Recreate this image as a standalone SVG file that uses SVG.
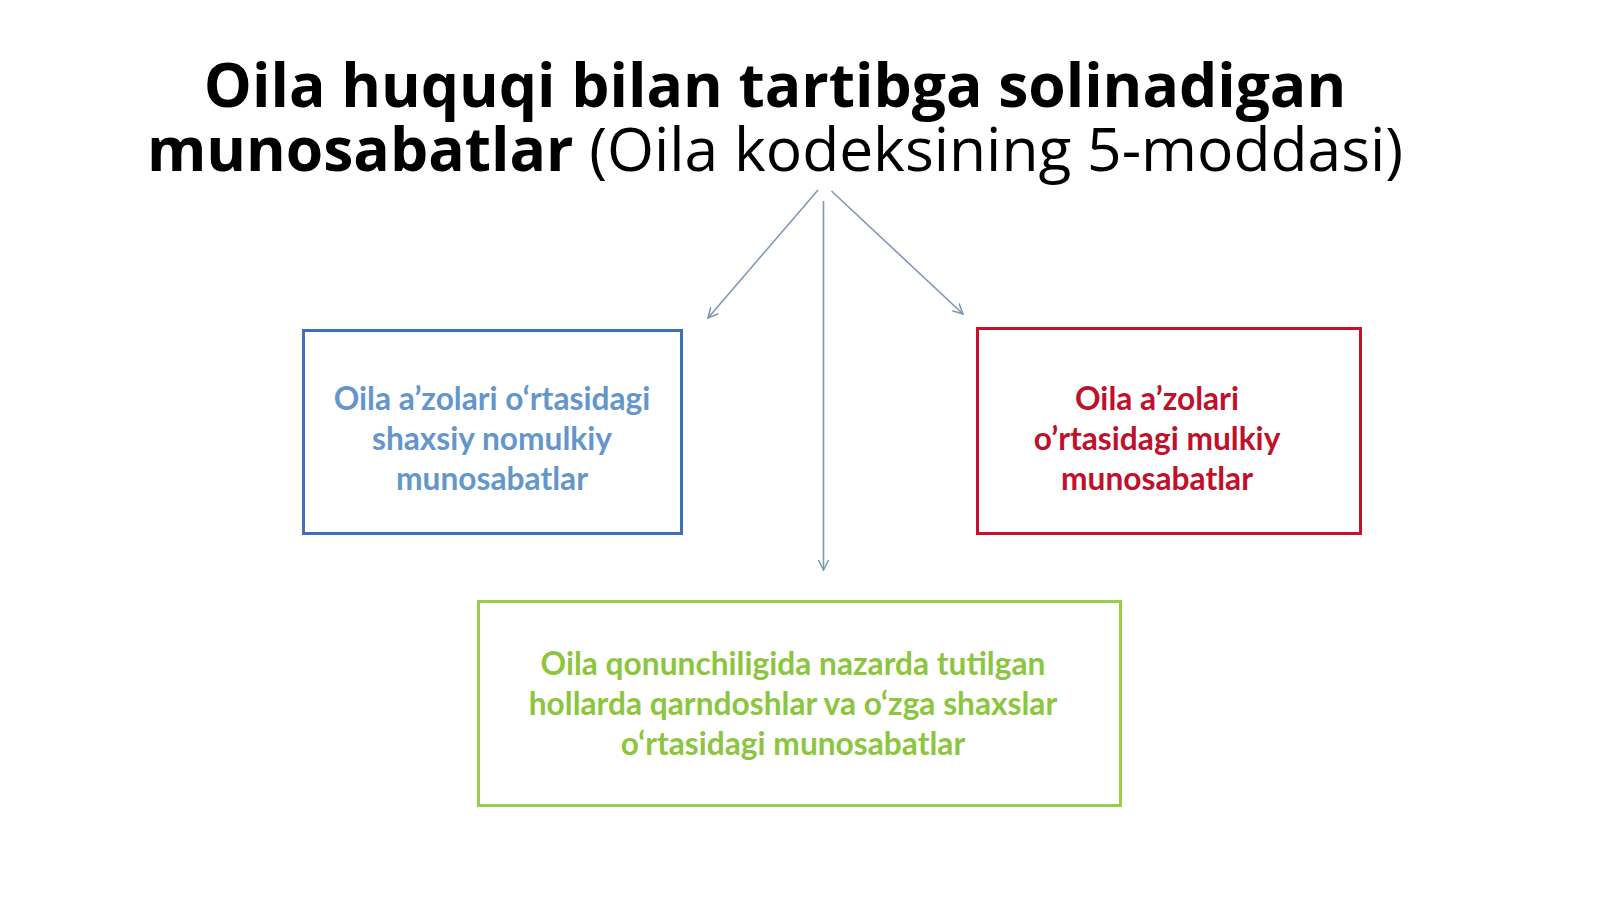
<svg xmlns="http://www.w3.org/2000/svg" width="1600" height="899" viewBox="0 0 1600 899">
<defs>
<style>
.title{font-family:"Open Sans","Noto Sans",sans-serif;font-size:60.5px;fill:#000}
.b{font-weight:700}
.r{font-weight:400}
.box{fill:#fff;stroke-width:3}
.lbl{font-family:Lato,"Liberation Sans",sans-serif;font-weight:700;font-size:31.7px;text-anchor:middle}
.conn{stroke:#7f98b4;stroke-width:1.6;fill:none;marker-end:url(#arr)}
</style>
<marker id="arr" viewBox="0 0 12 12" refX="11" refY="6" markerWidth="12" markerHeight="12" markerUnits="userSpaceOnUse" orient="auto">
<path d="M1,1 L11,6 L1,11" fill="none" stroke="#7f98b4" stroke-width="1.6"/>
</marker>
</defs>
<rect width="1600" height="899" fill="#fff"/>
<g id="title">
<text class="title" text-anchor="middle"><tspan class="b" x="775" y="107">Oila huquqi bilan tartibga solinadigan</tspan><tspan x="775" y="171"><tspan class="b">munosabatlar</tspan><tspan class="r"> (Oila kodeksining 5-moddasi)</tspan></tspan></text>
</g>
<g id="connectors">
<line class="conn" x1="818" y1="190" x2="708" y2="318"/>
<line class="conn" x1="823.5" y1="201" x2="823.5" y2="570"/>
<line class="conn" x1="831.5" y1="191" x2="963" y2="314"/>
</g>
<g id="node-personal">
<rect class="box" x="303.5" y="330.5" width="378" height="203" stroke="#3d72b8"/>
<text class="lbl" fill="#6496cc"><tspan x="492" y="410">Oila a’zolari o‘rtasidagi</tspan><tspan x="492" y="450">shaxsiy nomulkiy</tspan><tspan x="492" y="490">munosabatlar</tspan></text>
</g>
<g id="node-property">
<rect class="box" x="977.5" y="328.5" width="383" height="205" stroke="#c8102e"/>
<text class="lbl" fill="#c0102a"><tspan x="1157" y="410">Oila a’zolari</tspan><tspan x="1157" y="450">o’rtasidagi mulkiy</tspan><tspan x="1157" y="490">munosabatlar</tspan></text>
</g>
<g id="node-relatives">
<rect class="box" x="478.5" y="601.5" width="642" height="204" stroke="#9acd4e"/>
<text class="lbl" fill="#8cc63f"><tspan x="793" y="675">Oila qonunchiligida nazarda tutilgan</tspan><tspan x="793" y="715">hollarda qarndoshlar va o‘zga shaxslar</tspan><tspan x="793" y="755">o‘rtasidagi munosabatlar</tspan></text>
</g>
</svg>
